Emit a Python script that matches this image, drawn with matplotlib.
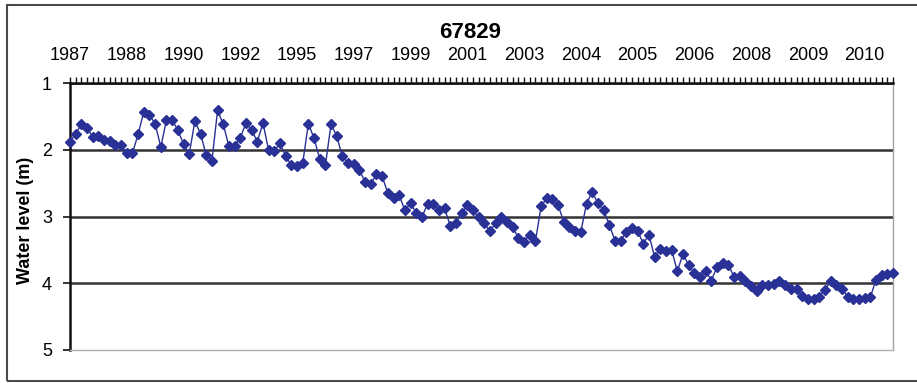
import matplotlib
matplotlib.use("Agg")
import matplotlib.pyplot as plt
from matplotlib.patches import Rectangle

# well id and the year labels shown every 10 readings
station = "67829"
year_labels = ["1987", "1988", "1990", "1992", "1995", "1997", "1999", "2001",
               "2003", "2004", "2005", "2006", "2008", "2009", "2010"]
label_every = 10

# water level below ground (m)
water_level = [
    1.88, 1.76, 1.62, 1.67, 1.81, 1.80, 1.85, 1.87, 1.93, 1.93,
    2.05, 2.05, 1.77, 1.43, 1.48, 1.61, 1.96, 1.55, 1.55, 1.71,
    1.91, 2.07, 1.57, 1.76, 2.08, 2.17, 1.41, 1.62, 1.95, 1.95,
    1.82, 1.60, 1.70, 1.88, 1.60, 2.01, 2.02, 1.90, 2.10, 2.23,
    2.25, 2.20, 1.61, 1.83, 2.14, 2.23, 1.61, 1.80, 2.10, 2.20,
    2.22, 2.31, 2.48, 2.51, 2.37, 2.40, 2.65, 2.73, 2.68, 2.91,
    2.80, 2.95, 3.01, 2.81, 2.82, 2.91, 2.88, 3.14, 3.09, 2.95,
    2.83, 2.91, 3.01, 3.10, 3.22, 3.10, 3.00, 3.08, 3.16, 3.32,
    3.38, 3.27, 3.37, 2.85, 2.72, 2.74, 2.83, 3.08, 3.16, 3.21,
    3.23, 2.81, 2.63, 2.80, 2.90, 3.12, 3.36, 3.37, 3.23, 3.17,
    3.21, 3.41, 3.27, 3.61, 3.48, 3.51, 3.50, 3.82, 3.56, 3.73,
    3.85, 3.91, 3.81, 3.96, 3.75, 3.70, 3.72, 3.91, 3.89, 3.97,
    4.04, 4.12, 4.03, 4.02, 4.01, 3.96, 4.03, 4.08, 4.08, 4.19,
    4.23, 4.23, 4.20, 4.10, 3.97, 4.02, 4.08, 4.20, 4.24, 4.24,
    4.22, 4.21, 3.95, 3.88, 3.86, 3.84,
]
y_ticks = [1, 2, 3, 4, 5]

plt.rcParams['font.family'] = ['Liberation Sans', 'DejaVu Sans']

W, H = 917, 383
fig = plt.figure(figsize=(W / 100, H / 100), dpi=100)

# outer frame of the picture
fig.patches.append(Rectangle((7 / W, 1 - 381 / H), 1.0, 376 / H, transform=fig.transFigure,
                             fill=False, edgecolor='#4a4a4a', lw=1.5))

ax = fig.add_axes([70 / W, 1 - 350 / H, 823 / W, 267 / H])

x = list(range(len(water_level)))
ax.plot(x, water_level, color='#2a3196', lw=1.0, marker='D', ms=5,
        clip_on=False, zorder=3)

ax.set_xlim(0, len(water_level) - 1)
ax.set_ylim(5, 1)

# categories on top, one tick per reading, a year every label_every readings
ax.xaxis.tick_top()
ax.set_xticks(x)
labels = [''] * len(x)
for k, yr in enumerate(year_labels):
    labels[k * label_every] = yr
ax.set_xticklabels(labels, fontsize=13)
ax.tick_params(axis='x', direction='out', length=4, width=1, pad=10, color='#111111')

ax.set_yticks(y_ticks)
ax.set_yticklabels([str(v) for v in y_ticks], fontsize=13)
ax.tick_params(axis='y', direction='out', length=5, width=1.2, pad=8, color='#111111')

ax.grid(axis='y', color='#333333', lw=1.8)
ax.yaxis.get_gridlines()[-1].set_visible(False)
ax.set_axisbelow(True)

ax.spines['top'].set_color('#111111')
ax.spines['top'].set_linewidth(1.8)
ax.spines['left'].set_color('#111111')
ax.spines['left'].set_linewidth(1.8)
ax.spines['bottom'].set_color('#b0b0b0')
ax.spines['bottom'].set_linewidth(1)
ax.spines['right'].set_color('#a0a0a0')
ax.spines['right'].set_linewidth(1)

fig.text(470 / W, 1 - 33 / H, station, ha='center', va='center',
         fontsize=16, fontweight='bold')
fig.text(26 / W, 1 - 220 / H, 'Water level (m)', rotation=90, ha='center',
         va='center', fontsize=13, fontweight='bold')

fig.savefig('out.png', dpi=100)
